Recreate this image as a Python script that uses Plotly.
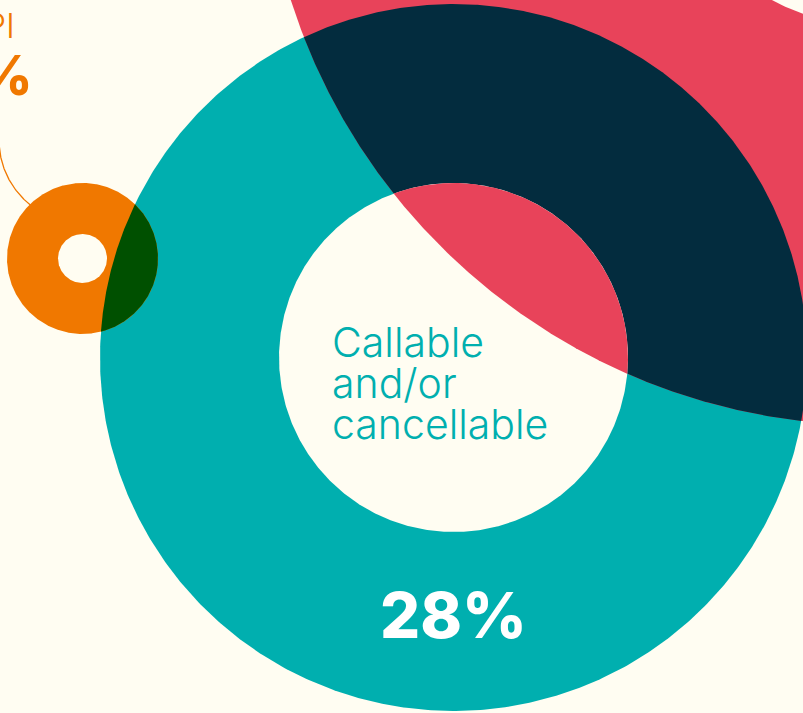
import numpy as np
import plotly.graph_objects as go

# ---------------- data ----------------
labels = ["Callable and/or cancellable", "CPI"]
values = [28, 3]
label_lines = ["Callable", "and/or", "cancellable"]

# colours
CREAM = "#FFFDF2"
TEAL = "#00AFAF"
PINK = "#E8435A"
NAVY = "#032C3E"
ORANGE = "#F07800"
GREEN = "#005000"

# geometry of the bubbles (pixel-like units on a 803 x 713 canvas)
teal_c, teal_R, teal_r = (453.5, 357.5), 353.5, 174.5
pink_c, pink_R, pink_r = (872.0, -185.0), 610.0, 210.5
orng_c, orng_R, orng_r = (82.5, 258.5), 75.5, 24.5
lead_c, lead_r = (82.0, 140.0), 83.0

W, H = 803, 713


def circle(c, r, n=720):
    t = np.linspace(0, 2 * np.pi, n)
    return c[0] + r * np.cos(t), c[1] + r * np.sin(t)


def lens(c1, r1, c2, r2, n=400):
    dx, dy = c2[0] - c1[0], c2[1] - c1[1]
    d = np.hypot(dx, dy)
    a = (r1 ** 2 - r2 ** 2 + d ** 2) / (2 * d)
    th = np.arctan2(dy, dx)
    al1 = np.arccos(np.clip(a / r1, -1, 1))
    al2 = np.arccos(np.clip((d - a) / r2, -1, 1))
    t1 = np.linspace(th - al1, th + al1, n)
    t2 = np.linspace(th + np.pi - al2, th + np.pi + al2, n)
    xs = np.concatenate([c1[0] + r1 * np.cos(t1), c2[0] + r2 * np.cos(t2)])
    ys = np.concatenate([c1[1] + r1 * np.sin(t1), c2[1] + r2 * np.sin(t2)])
    return xs, ys


fig = go.Figure()


def add_fill(xy, color):
    fig.add_trace(go.Scatter(x=xy[0], y=xy[1], mode="lines", fill="toself",
                             fillcolor=color, line=dict(width=0, color=color),
                             hoverinfo="skip", showlegend=False))


add_fill(circle(teal_c, teal_R), TEAL)
add_fill(circle(pink_c, pink_R, 2000), PINK)
add_fill(circle(pink_c, pink_r), CREAM)
add_fill(lens(teal_c, teal_R, pink_c, pink_R), NAVY)
add_fill(circle(teal_c, teal_r), CREAM)
add_fill(lens(teal_c, teal_r, pink_c, pink_R), PINK)
add_fill(circle(orng_c, orng_R), ORANGE)
add_fill(lens(orng_c, orng_R, teal_c, teal_R), GREEN)
add_fill(circle(orng_c, orng_r), CREAM)

# leader line from the CPI label to the orange ring
tl = np.radians(np.linspace(176, 128, 80))
fig.add_trace(go.Scatter(x=lead_c[0] + lead_r * np.cos(tl), y=lead_c[1] + lead_r * np.sin(tl),
                         mode="lines", line=dict(color=ORANGE, width=1.3),
                         hoverinfo="skip", showlegend=False))

FONT = "Inter"
ann = []
line_y = [342, 383, 424]
for txt, yy in zip(label_lines, line_y):
    ann.append(dict(x=330, y=yy, text=txt, xanchor="left", yanchor="middle",
                    showarrow=False, font=dict(family=FONT, size=41, color=TEAL, weight=300)))
ann.append(dict(x=453, y=615, text=f"{values[0]}%", xanchor="center", yanchor="middle",
                showarrow=False, font=dict(family=FONT, size=63, color="white", weight=800)))
ann.append(dict(x=17, y=25, text=labels[1], xanchor="right", yanchor="middle",
                showarrow=False, font=dict(family=FONT, size=34, color=ORANGE, weight=300)))
ann.append(dict(x=35, y=75, text=f"{values[1]}%", xanchor="right", yanchor="middle",
                showarrow=False, font=dict(family=FONT, size=55, color=ORANGE, weight=800)))

fig.update_layout(
    width=W, height=H, margin=dict(l=0, r=0, t=0, b=0),
    paper_bgcolor=CREAM, plot_bgcolor=CREAM,
    xaxis=dict(range=[0, W], visible=False, fixedrange=True),
    yaxis=dict(range=[H, 0], visible=False, fixedrange=True),
    annotations=ann, showlegend=False,
)
fig.write_html("out.html")
